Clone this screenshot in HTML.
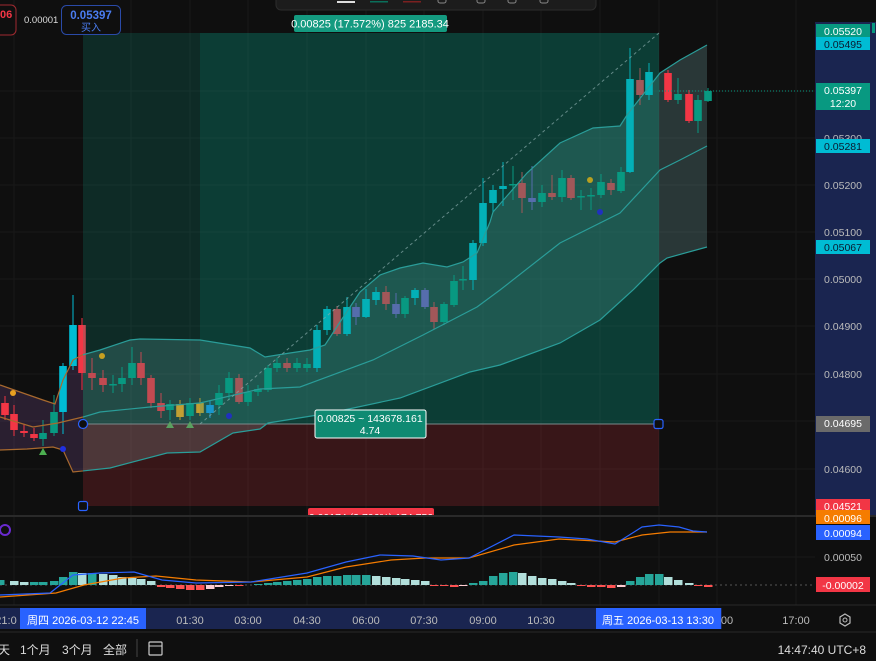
<!DOCTYPE html>
<html><head><meta charset="utf-8">
<style>
html,body{margin:0;padding:0;background:#0f0f0f;width:876px;height:661px;overflow:hidden}
svg{display:block}
text{font-family:"Liberation Sans","Noto Sans CJK SC",sans-serif}
</style></head>
<body>
<svg id="s" width="876" height="661" viewBox="0 0 876 661" xmlns="http://www.w3.org/2000/svg">
<defs>
<clipPath id="pre"><rect x="0" y="0" width="83" height="515"/></clipPath>
<clipPath id="post"><rect x="83" y="0" width="732" height="515"/></clipPath>
<clipPath id="main"><rect x="0" y="0" width="815" height="515"/></clipPath>
</defs>
<rect width="876" height="661" fill="#0f0f0f"/>
<g id="grid" stroke="#191919" stroke-width="1"></g>
<g id="bandfill" clip-path="url(#main)"></g>
<g id="candles" clip-path="url(#main)"></g>
<rect x="83" y="33" width="117" height="391" fill="rgba(8,153,129,0.2)"/>
<rect x="200" y="33" width="459" height="391" fill="rgba(8,153,129,0.34)"/>
<rect x="83" y="424" width="576" height="82" fill="rgba(242,54,69,0.18)"/>
<line x1="83" y1="424" x2="659" y2="424" stroke="#7a8a8a" stroke-width="1"/>
<g id="bandlines" fill="none" stroke-width="1.2"></g>
<line x1="200" y1="424" x2="659" y2="33" stroke="#8aa" stroke-width="1" stroke-dasharray="3,3" opacity="0.7"/>
<line x1="659" y1="91" x2="815" y2="91" stroke="#089981" stroke-width="1" stroke-dasharray="1,2"/>
<circle cx="13" cy="393" r="3" fill="#e8a020"/>
<circle cx="102" cy="356" r="3" fill="#c8a020"/>
<circle cx="590" cy="180" r="3" fill="#b8a020"/>
<circle cx="63" cy="449" r="3" fill="#2030e0"/>
<circle cx="229" cy="416" r="3" fill="#2030c0"/>
<circle cx="600" cy="212" r="3" fill="#2030c0"/>
<polygon points="43,448 39,455 47,455" fill="#4caf50"/>
<polygon points="170,421 166,428 174,428" fill="#5aa060"/>
<polygon points="190,421 186,428 194,428" fill="#5aa060"/>
<circle cx="83" cy="424" r="4.5" fill="#0f0f0f" stroke="#2962ff" stroke-width="1.2"/>
<rect x="654" y="419.5" width="9" height="9" rx="2" fill="#0f0f0f" stroke="#2962ff" stroke-width="1.2"/>
<rect x="78.5" y="501.5" width="9" height="9" rx="2" fill="#0f0f0f" stroke="#2962ff" stroke-width="1.2"/>
<rect x="294" y="15" width="153" height="17" rx="2" fill="#149a80"/>
<text x="370" y="27.5" fill="#fff" font-size="11" text-anchor="middle">0.00825 (17.572%) 825 2185.34</text>
<rect x="315" y="410" width="111" height="28" rx="2" fill="#0f8a72" stroke="#fff" stroke-width="1"/>
<text x="370" y="422" fill="#fff" font-size="10.5" text-anchor="middle">0.00825 ~ 143678.161</text>
<text x="370" y="434" fill="#fff" font-size="10.5" text-anchor="middle">4.74</text>
<rect x="308" y="508" width="126" height="16" rx="2" fill="#f23645"/>
<text x="371" y="521" fill="#fff" font-size="10.5" text-anchor="middle">0.00174 (3.706%) 174.750</text>
<rect x="0" y="516" width="876" height="89" fill="#0f0f0f"/>
<g id="grid2" stroke="#191919" stroke-width="1"></g>
<rect x="276" y="-6" width="320" height="16" rx="5" fill="#1c1c1c" stroke="#2c2c2c"/>
<rect x="337" y="1" width="18" height="2" fill="#ddd"/>
<rect x="370" y="1" width="18" height="1.5" fill="#0a6e5a"/>
<rect x="403" y="1" width="18" height="1.5" fill="#7a2020"/>
<rect x="438" y="-3" width="8" height="6" rx="2" fill="none" stroke="#888"/>
<rect x="477" y="-3" width="8" height="6" rx="2" fill="none" stroke="#888"/>
<rect x="508" y="-3" width="8" height="6" rx="2" fill="none" stroke="#888"/>
<rect x="540" y="-3" width="8" height="6" rx="2" fill="none" stroke="#888"/>
<rect x="-10" y="5" width="26" height="30" rx="5" fill="#0f0f0f" stroke="#a02a30"/>
<text x="0" y="18" fill="#f23645" font-size="11" font-weight="bold">06</text>
<text x="24" y="23" fill="#ddd" font-size="9.5">0.00001</text>
<rect x="61.5" y="5.5" width="59" height="29" rx="5" fill="#0f0f0f" stroke="#2a4aa8"/>
<text x="91" y="19" fill="#4a7cf0" font-size="11.5" font-weight="bold" text-anchor="middle">0.05397</text>
<text x="91" y="31" fill="#4a7cf0" font-size="10" text-anchor="middle">买入</text>
<rect x="815" y="22" width="61" height="493" fill="#1a2550"/>
<g id="axis" font-size="10.5"></g>
<line x1="0" y1="516" x2="876" y2="516" stroke="#2a2a2a" stroke-width="2"/>
<line x1="0" y1="585" x2="815" y2="585" stroke="#555" stroke-dasharray="2,3" stroke-width="1"/>
<g id="hist"></g>
<polyline id="sig" fill="none" stroke="#f57c00" stroke-width="1.2"/>
<polyline id="macd" fill="none" stroke="#2962ff" stroke-width="1.2"/>
<circle cx="5" cy="530" r="5" fill="none" stroke="#6a2ad0" stroke-width="2"/>
<rect x="816" y="510" width="54" height="14" fill="#f57c00"/>
<text x="843" y="522" fill="#fff" font-size="10.5" text-anchor="middle">0.00096</text>
<rect x="816" y="525" width="54" height="15" fill="#2962ff"/>
<text x="843" y="537" fill="#fff" font-size="10.5" text-anchor="middle">0.00094</text>
<text x="843" y="561" fill="#bbb" font-size="10.5" text-anchor="middle">0.00050</text>
<rect x="816" y="577" width="54" height="15" fill="#f23645"/>
<text x="843" y="589" fill="#fff" font-size="10.5" text-anchor="middle">-0.00002</text>
<line x1="0" y1="605" x2="876" y2="605" stroke="#2a2a2a"/>
<rect x="0" y="608" width="722" height="21" fill="#1a2550"/>
<g font-size="11" fill="#bbb" text-anchor="middle">
<text x="6" y="624">21:0</text>
<text x="190" y="624">01:30</text><text x="248" y="624">03:00</text><text x="307" y="624">04:30</text>
<text x="366" y="624">06:00</text><text x="424" y="624">07:30</text><text x="483" y="624">09:00</text>
<text x="541" y="624">10:30</text><text x="727" y="624">00</text><text x="796" y="624">17:00</text>
</g>
<rect x="20" y="608" width="126" height="21" fill="#2962ff"/>
<text x="83" y="624" fill="#fff" font-size="11" text-anchor="middle">周四 2026-03-12   22:45</text>
<rect x="596" y="608" width="125" height="21" fill="#2962ff"/>
<text x="658" y="624" fill="#fff" font-size="11" text-anchor="middle">周五 2026-03-13   13:30</text>
<polygon points="845,614 850,617 850,623 845,626 840,623 840,617" fill="none" stroke="#bbb" stroke-width="1.2"/>
<circle cx="845" cy="620" r="2" fill="none" stroke="#bbb"/>
<line x1="0" y1="632" x2="876" y2="632" stroke="#2a2a2a"/>
<g font-size="12" fill="#ddd">
<text x="-2" y="654">天</text><text x="20" y="654">1个月</text><text x="62" y="654">3个月</text><text x="103" y="654">全部</text>
<text x="866" y="654" text-anchor="end">14:47:40 UTC+8</text>
</g>
<line x1="137" y1="639" x2="137" y2="657" stroke="#444"/>
<rect x="149" y="642" width="13" height="13" rx="1" fill="none" stroke="#ccc" stroke-width="1.2"/>
<line x1="149" y1="646" x2="162" y2="646" stroke="#ccc"/>
</svg>
<script>
var NS="http://www.w3.org/2000/svg";
function el(p,t,a){var e=document.createElementNS(NS,t);for(var k in a)e.setAttribute(k,a[k]);p.appendChild(e);return e;}
var g=document.getElementById('grid'),g2=document.getElementById('grid2');
[14,131,190,248,307,366,424,483,541,600,659,717,796].forEach(function(x){el(g,'line',{x1:x,y1:0,x2:x,y2:515});el(g2,'line',{x1:x,y1:517,x2:x,y2:605});});
[91,138,185,232,279,326,374,421,469].forEach(function(y){el(g,'line',{x1:0,y1:y,x2:815,y2:y});});
el(g2,'line',{x1:0,y1:557,x2:815,y2:557});
var up=[[0,385],[20,392],[43,400],[55,404],[63,380],[73,360],[82,355],[100,350],[130,340],[140,339],[200,340],[250,348],[265,357],[290,353],[310,350],[325,345],[340,322],[360,292],[380,275],[400,268],[423,263],[447,267],[463,262],[477,253],[490,222],[493,212],[527,173],[560,143],[593,128],[620,126],[627,115],[660,73],[680,60],[707,45]];
var mid=[[0,417],[33,427],[58,423],[83,417],[100,412],[150,407],[200,403],[260,389],[300,387],[373,360],[423,335],[477,307],[500,290],[560,243],[620,213],[660,170],[680,160],[707,146]];
var lo=[[0,450],[27,449],[53,447],[63,450],[73,472],[110,468],[167,453],[200,452],[233,433],[260,429],[268,423],[330,413],[400,398],[470,372],[500,365],[560,343],[600,320],[633,290],[660,263],[667,258],[707,247]];
function pts(a){return a.map(function(p){return p[0]+','+p[1]}).join(' ');}
var poly=pts(up)+' '+pts(lo.slice().reverse());
var bf=document.getElementById('bandfill');
el(bf,'polygon',{points:poly,fill:'rgba(140,90,170,0.22)','clip-path':'url(#pre)'});
el(bf,'polygon',{points:poly,fill:'rgba(110,160,160,0.28)','clip-path':'url(#post)'});
var bl=document.getElementById('bandlines');
[up,mid,lo].forEach(function(a){
 el(bl,'polyline',{points:pts(a),stroke:'#a8692e','clip-path':'url(#pre)'});
 el(bl,'polyline',{points:pts(a),stroke:'#2a9d99','clip-path':'url(#post)'});
});
var col={r:'#f23645',R:'#f23645',g:'#089981',c:'#00bcd4',p:'#7e57c2',o:'#f0a020',b:'#2196f3'};
var c=[[5,403,415,396,420,'r'],[14,414,430,405,436,'r'],[24,431,433,424,437,'r'],[34,434,438,428,441,'r'],[43,439,433,420,446,'g'],[54,433,412,395,436,'g'],[63,412,366,363,434,'c'],[73,366,325,295,370,'c'],[82,325,373,318,390,'r'],[92,373,378,358,390,'r'],[103,378,385,370,392,'r'],[113,385,384,375,393,'g'],[122,384,378,367,392,'g'],[132,378,363,347,385,'g'],[141,363,378,352,385,'r'],[151,378,403,375,408,'r'],[161,403,411,393,418,'r'],[170,410,404,400,420,'g'],[180,404,417,400,420,'o'],[190,416,403,398,420,'g'],[200,403,413,398,416,'o'],[210,405,413,400,418,'b'],[219,405,393,385,415,'g'],[229,393,378,372,400,'g'],[239,378,402,374,404,'r'],[248,402,392,385,406,'g'],[258,392,389,385,396,'g'],[268,390,368,365,392,'g'],[277,368,363,358,372,'g'],[287,363,368,358,372,'r'],[297,368,363,358,372,'g'],[307,368,364,358,372,'g'],[317,368,330,325,372,'c'],[327,330,309,306,335,'c'],[337,309,334,306,336,'r'],[347,334,307,297,336,'c'],[356,307,317,303,325,'p'],[366,317,299,289,318,'c'],[376,300,292,287,305,'c'],[386,292,304,286,310,'r'],[396,304,314,293,318,'p'],[405,314,298,296,318,'g'],[415,298,290,288,305,'c'],[425,290,307,288,309,'p'],[434,307,322,302,329,'r'],[444,322,304,302,325,'g'],[454,305,281,275,307,'g'],[463,280,279,266,290,'g'],[473,280,243,240,290,'c'],[483,243,203,178,246,'c'],[493,203,190,185,213,'c'],[503,189,186,162,206,'c'],[513,185,184,166,200,'g'],[522,183,198,172,213,'r'],[532,198,202,166,210,'p'],[542,202,193,185,207,'g'],[552,193,197,175,200,'r'],[562,197,178,170,202,'g'],[571,178,198,175,200,'r'],[581,197,196,190,210,'g'],[591,196,195,188,210,'g'],[601,195,182,174,198,'g'],[611,183,190,179,195,'r'],[621,191,172,167,193,'g'],[630,172,79,48,173,'c'],[640,80,95,68,105,'r'],[649,95,72,63,100,'c'],[668,73,100,70,102,'R'],[678,100,94,78,104,'g'],[689,94,121,90,123,'R'],[698,121,100,95,133,'g'],[708,101,91,88,102,'g']];
var cg=document.getElementById('candles');
c.forEach(function(d){var x=d[0],t=Math.min(d[1],d[2]),b=Math.max(d[1],d[2]);if(b-t<1.5)b=t+1.5;var f=col[d[5]];
 el(cg,'line',{x1:x,y1:d[3],x2:x,y2:d[4],stroke:f,'stroke-width':1});
 el(cg,'rect',{x:x-3.8,y:t,width:7.6,height:b-t,fill:f});});
var ax=document.getElementById('axis');
[[0.05200,185],[0.05100,232],[0.05000,279],[0.04900,326],[0.04800,374],[0.04600,469],[0.05300,138]].forEach(function(a){
 var t=el(ax,'text',{x:843,y:a[1]+4,fill:'#bbb','text-anchor':'middle'});t.textContent=a[0].toFixed(5);});
function box(y,h,bg,txt,fg){el(ax,'rect',{x:816,y:y,width:54,height:h,fill:bg});
 txt.forEach(function(s,i){var t=el(ax,'text',{x:843,y:y+11+i*13,fill:fg||'#fff','text-anchor':'middle'});t.textContent=s;});}
box(24,13,'#089981',['0.05520']);
box(37,13,'#00bcd4',['0.05495'],'#0a1a30');
box(83,27,'#089981',['0.05397','12:20']);
box(139,14,'#00bcd4',['0.05281'],'#0a1a30');
box(240,14,'#00bcd4',['0.05067'],'#0a1a30');
box(416,16,'#6a6a6a',['0.04695']);
box(499,15,'#f23645',['0.04521']);
el(ax,'rect',{x:872,y:23,width:3,height:10,fill:'#089981'});
var hg=document.getElementById('hist');
var hs=[[0,5],[14,4],[24,3],[34,3],[43,3],[54,4],[63,8],[73,13],[82,12],[92,12],[103,11],[113,10],[122,8],[132,7],[141,6],[151,4],[161,-2],[170,-3],[180,-4],[190,-5],[200,-5],[210,-4],[219,-2],[229,-1],[239,-1],[248,0],[258,1],[268,2],[277,3],[287,4],[297,5],[307,6],[317,8],[327,9],[337,9],[347,10],[356,10],[366,10],[376,9],[386,8],[396,7],[405,6],[415,5],[425,4],[434,-1],[444,-1],[454,-2],[463,-1],[473,2],[483,4],[493,9],[503,12],[513,13],[522,12],[532,9],[542,7],[552,6],[562,4],[571,2],[581,-1],[591,-2],[601,-2],[611,-3],[621,-2],[630,4],[640,8],[649,11],[659,11],[668,8],[678,5],[689,2],[698,-1],[708,-2]];
hs.forEach(function(h,i){var v=h[1];if(v==0)return;var prev=i>0?hs[i-1][1]:0;var f;
 if(v>0)f=(v>=prev)?'#26a69a':'#b2dfdb';else f=(v<=prev)?'#ff5252':'#ffcdd2';
 el(hg,'rect',{x:h[0]-4,y:v>0?585-v:585,width:8.5,height:Math.abs(v),fill:f});});
document.getElementById('macd').setAttribute('points','0,595 50,593 73,575 100,573 134,572 162,580 196,583 251,582 307,573 346,562 380,555 413,556 441,560 469,558 514,535 559,537 587,539 615,544 642,527 659,525 679,527 693,531 707,532');
document.getElementById('sig').setAttribute('points','0,597 56,593 84,585 123,578 156,576 196,580 251,582 307,577 346,567 391,560 425,558 469,558 514,545 559,539 615,542 642,535 670,532 707,532');
</script>
</body></html>
